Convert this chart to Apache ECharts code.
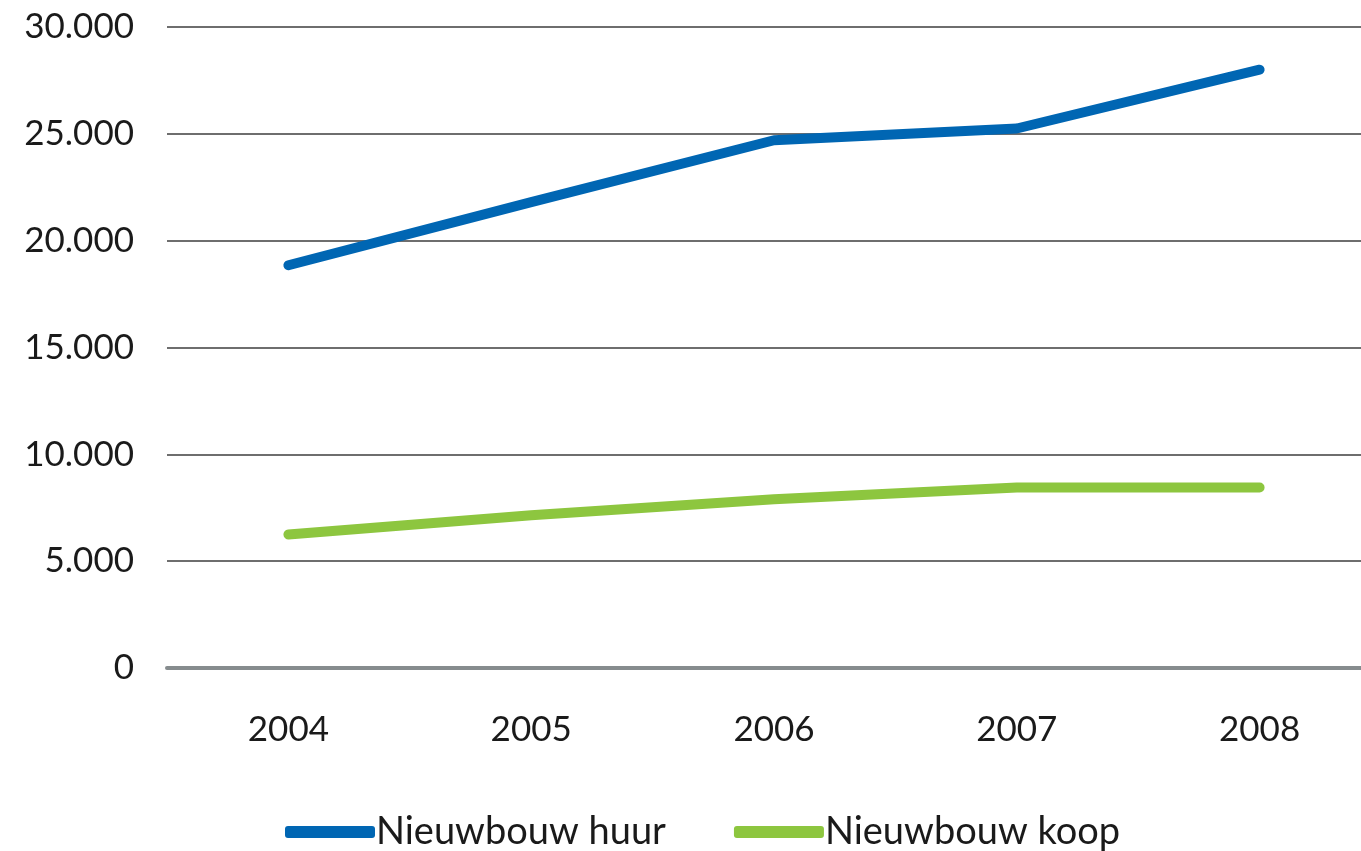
<!DOCTYPE html>
<html>
<head>
<meta charset="utf-8">
<script src="https://cdn.jsdelivr.net/npm/echarts@6/dist/echarts.min.js"></script>
<style>
  html, body { margin: 0; padding: 0; background: #fff; overflow: hidden; }
  #chart { width: 1381px; height: 851px; }
</style>
</head>
<body>
<div id="chart"></div>
<script>
// Jaren op de x-as
const years = ['2004', '2005', '2006', '2007', '2008'];

// Waarden per reeks
const huurValues = [18850, 21800, 24700, 25250, 28000];
const koopValues = [6250, 7150, 7900, 8450, 8450];

const seriesNames = ['Nieuwbouw huur', 'Nieuwbouw koop'];
const COLORS = { huur: '#0066b3', koop: '#8dc63f', text: '#1a1a1a', grid: '#6e6e6e', axis: '#868c8e' };

const FONT = 'Lato, "Open Sans", sans-serif';

const chart = echarts.init(document.getElementById('chart'));

// de grafiek loopt rechts iets buiten het beeld
const option = {
    backgroundColor: '#ffffff',
    animation: false,
    grid: {
        left: 167,
        right: 0,
        top: 27,
        bottom: 183
    },
    legend: {
        left: 280,
        top: 808,
        itemWidth: 90,
        itemHeight: 12,
        itemGap: 68,
        icon: 'roundRect',
        textStyle: { color: COLORS.text, fontSize: 38, fontFamily: FONT, padding: [0, 0, 0, -4] },
        data: seriesNames
    },
    xAxis: {
        type: 'category',
        data: years,
        boundaryGap: true,
        axisLine: { lineStyle: { color: COLORS.axis, width: 4 } },
        axisTick: { show: false },
        axisLabel: { color: COLORS.text, fontSize: 35, fontFamily: FONT, margin: 44 }
    },
    yAxis: {
        type: 'value',
        min: 0,
        max: 30000,
        interval: 5000,
        axisLine: { show: false },
        axisTick: { show: false },
        axisLabel: {
            color: COLORS.text,
            fontSize: 35,
            fontFamily: FONT,
            margin: 33,
            formatter: v => v === 0 ? '0' : (v / 1000) + '.000'
        },
        splitLine: { lineStyle: { color: COLORS.grid, width: 2 } }
    },
    series: [
        {
            name: seriesNames[0],
            type: 'line',
            data: huurValues,
            symbol: 'none',
            lineStyle: { color: COLORS.huur, width: 10, cap: 'round', join: 'round' },
            itemStyle: { color: COLORS.huur }
        },
        {
            name: seriesNames[1],
            type: 'line',
            data: koopValues,
            symbol: 'none',
            lineStyle: { color: COLORS.koop, width: 10, cap: 'round', join: 'round' },
            itemStyle: { color: COLORS.koop }
        }
    ]
};

chart.setOption(option);
</script>
</body>
</html>
